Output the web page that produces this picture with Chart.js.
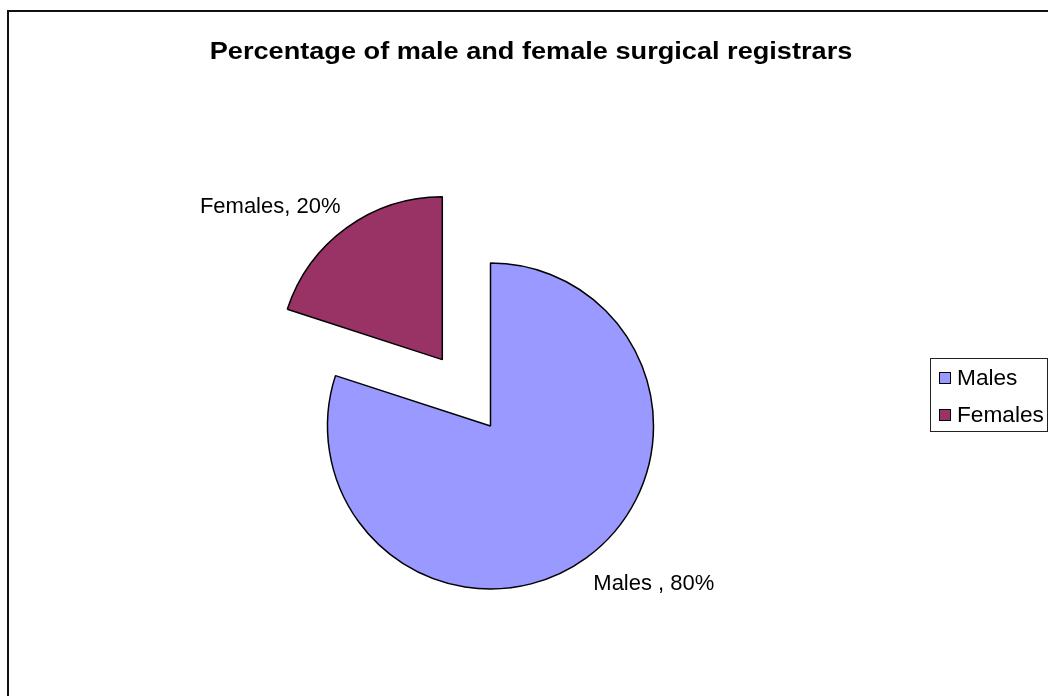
<!DOCTYPE html>
<html>
<head>
<meta charset="utf-8">
<script src="https://cdn.jsdelivr.net/npm/chart.js@4.4.1/dist/chart.umd.min.js"></script>
<style>
    html, body { margin: 0; padding: 0; background: #fff; }
    #wrap { position: relative; width: 1048px; height: 696px; }
</style>
</head>
<body>
<div id="wrap"><canvas id="registrarsChart"></canvas></div>
<script>
const chartTitle = 'Percentage of male and female surgical registrars';
const categories = ['Males ', 'Females'];
const shares = [80, 20];
const sliceColors = ['#9999FF', '#993366'];

const fontFamily = '"Liberation Sans", Arial, sans-serif';

// pulls slices out from the centre by dataset.explode px, keeping their radius
const explodeSlices = {
    id: 'explodeSlices',
    afterUpdate(chart) {
        const ds = chart.data.datasets[0];
        chart.getDatasetMeta(0).data.forEach((arc, i) => {
            const dist = (ds.explode && ds.explode[i]) || 0;
            const mid = (arc.startAngle + arc.endAngle) / 2;
            arc.x += Math.cos(mid) * dist;
            arc.y += Math.sin(mid) * dist;
        });
    }
};

// frame, title, slice labels and boxed legend
const sheetDecor = {
    id: 'sheetDecor',
    beforeDraw(chart) {
        const ctx = chart.ctx;
        ctx.save();
        ctx.fillStyle = '#fff';
        ctx.fillRect(0, 0, chart.width, chart.height);
        ctx.strokeStyle = '#111';
        ctx.lineWidth = 2;
        ctx.strokeRect(8, 11, chart.width + 100, chart.height + 100);

        ctx.fillStyle = '#000';
        ctx.font = 'bold 23px ' + fontFamily;
        ctx.textAlign = 'center';
        ctx.textBaseline = 'alphabetic';
        ctx.translate(531, 59);
        ctx.scale(1.18, 1);
        ctx.fillText(chartTitle, 0, 0);
        ctx.restore();
    },
    afterDatasetsDraw(chart) {
        const ctx = chart.ctx;
        const ds = chart.data.datasets[0];
        const meta = chart.getDatasetMeta(0);
        ctx.save();
        ctx.fillStyle = '#000';
        ctx.font = '22px ' + fontFamily;
        meta.data.forEach((arc, i) => {
            const mid = (arc.startAngle + arc.endAngle) / 2;
            const px = arc.x + Math.cos(mid) * arc.outerRadius;
            const py = arc.y + Math.sin(mid) * arc.outerRadius;
            const right = Math.cos(mid) >= 0;
            const below = Math.sin(mid) >= 0;
            ctx.textAlign = right ? 'left' : 'right';
            ctx.textBaseline = 'alphabetic';
            const text = `${chart.data.labels[i]}, ${ds.data[i]}%`;
            ctx.fillText(text, px + (right ? 7 : -6), py + (below ? 32 : -15));
        });

        // legend box
        ctx.strokeStyle = '#222';
        ctx.lineWidth = 1;
        ctx.strokeRect(930.5, 358.5, 117, 73);
        ctx.font = '22px ' + fontFamily;
        ctx.textAlign = 'left';
        chart.data.labels.forEach((label, i) => {
            const y = 385 + i * 37;
            ctx.fillStyle = ds.backgroundColor[i];
            ctx.fillRect(939.5, y - 12.5, 11, 11);
            ctx.strokeStyle = '#000';
            ctx.strokeRect(939.5, y - 12.5, 11, 11);
            ctx.save();
            ctx.fillStyle = '#000';
            ctx.translate(957, y);
            ctx.scale(1.03, 1);
            ctx.fillText(label.trim(), 0, 0);
            ctx.restore();
        });
        ctx.restore();
    }
};

new Chart(document.getElementById('registrarsChart'), {
    type: 'pie',
    data: {
        labels: categories,
        datasets: [{
            data: shares,
            backgroundColor: sliceColors,
            borderColor: '#000',
            borderWidth: 1.5,
            explode: [0, 82],
            hoverOffset: 0
        }]
    },
    options: {
        responsive: true,
        maintainAspectRatio: false,
        animation: false,
        radius: 163,
        layout: {
            padding: { left: 0, right: 67, top: 156, bottom: 0 }
        },
        plugins: {
            legend: { display: false },
            title: { display: false },
            tooltip: { enabled: false }
        }
    },
    plugins: [explodeSlices, sheetDecor]
});
</script>
</body>
</html>
